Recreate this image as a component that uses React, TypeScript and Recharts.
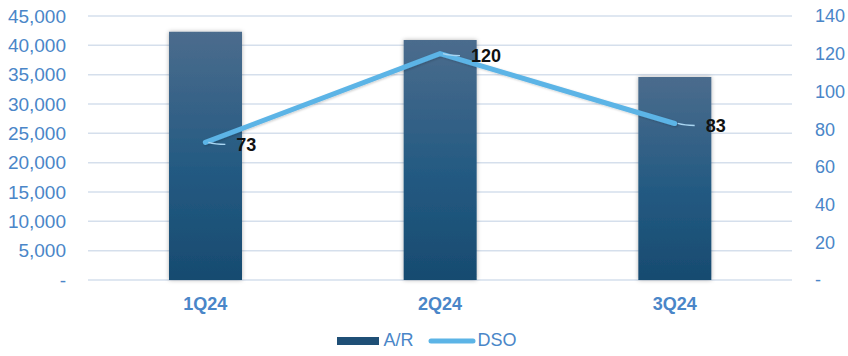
import React from 'react';
import {
  ComposedChart,
  Bar,
  Line,
  XAxis,
  YAxis,
  CartesianGrid,
  Legend,
} from 'recharts';

const quarters = ['1Q24', '2Q24', '3Q24'];
const arValues = [42300, 40900, 34600];
const dsoValues = [73, 120, 83];
const arTicks = [0, 5000, 10000, 15000, 20000, 25000, 30000, 35000, 40000, 45000];
const dsoTicks = [0, 20, 40, 60, 80, 100, 120, 140];

const data = quarters.map((q, i) => ({ quarter: q, ar: arValues[i], dso: dsoValues[i] }));

const FONT = '"Liberation Sans", Arial, sans-serif';
const BLUE_TEXT = '#4a86c8';
const LINE_BLUE = '#5cb4e6';

const fmtAr = (v: number) => (v === 0 ? '-' : v.toLocaleString('en-US'));
const fmtDso = (v: number) => (v === 0 ? '-' : String(v));

// excel-style data label with a little leader line
const DsoLabel = (props: any) => {
  const { x, y, value } = props;
  if (x == null || y == null) return null;
  return (
    <g>
      <path
        d={`M${x + 3},${y} Q${x + 10},${y + 2} ${x + 20},${y + 2}`}
        stroke="#a9d5f1"
        strokeWidth={1.3}
        fill="none"
      />
      <text
        x={x + 31}
        y={y + 2}
        dy="0.35em"
        fontFamily={FONT}
        fontSize={18}
        fontWeight="bold"
        fill="#111"
      >
        {value}
      </text>
    </g>
  );
};

const LegendContent = () => (
  <div
    style={{
      display: 'flex',
      justifyContent: 'center',
      alignItems: 'center',
      fontFamily: FONT,
      fontSize: 18,
      color: BLUE_TEXT,
      paddingLeft: 6,
    }}
  >
    <svg width={42} height={10} style={{ marginRight: 4 }}>
      <rect x={0} y={1} width={42} height={8} fill="#1f4f76" />
    </svg>
    <span style={{ marginRight: 14 }}>A/R</span>
    <svg width={48} height={10} style={{ marginRight: 2 }}>
      <line x1={3} y1={5} x2={45} y2={5} stroke={LINE_BLUE} strokeWidth={5} strokeLinecap="round" />
    </svg>
    <span>DSO</span>
  </div>
);

export default function App() {
  return (
    <div style={{ position: 'absolute', left: 0, top: 0, width: 848, height: 356, background: '#fff' }}>
      <ComposedChart
        width={848}
        height={356}
        data={data}
        margin={{ top: 16, right: 0, bottom: 0, left: 0 }}
      >
        <defs>
          <linearGradient id="arGrad" x1="0" y1="0" x2="0" y2="1">
            <stop offset="0%" stopColor="#4b6c8d" />
            <stop offset="55%" stopColor="#245a82" />
            <stop offset="100%" stopColor="#174b70" />
          </linearGradient>
          <filter id="barShadow" x="-20%" y="-5%" width="140%" height="110%">
            <feDropShadow dx="0" dy="0" stdDeviation="2" floodColor="#000" floodOpacity="0.3" />
          </filter>
          <filter id="lineShadow" x="-5%" y="-20%" width="110%" height="140%">
            <feDropShadow dx="1" dy="1" stdDeviation="1" floodColor="#000" floodOpacity="0.2" />
          </filter>
        </defs>
        <CartesianGrid vertical={false} stroke="#d5dfec" strokeWidth={1.5} yAxisId="ar" />
        <XAxis
          dataKey="quarter"
          axisLine={false}
          tickLine={false}
          tickSize={0}
          tickMargin={17}
          height={50}
          tick={{ fill: BLUE_TEXT, fontSize: 18, fontWeight: 'bold', fontFamily: FONT }}
        />
        <YAxis
          yAxisId="ar"
          orientation="left"
          width={88}
          domain={[0, 45000]}
          ticks={arTicks}
          tickFormatter={fmtAr}
          axisLine={false}
          tickLine={false}
          tickSize={0}
          tickMargin={22}
          interval={0}
          tick={{ fill: BLUE_TEXT, fontSize: 19, fontFamily: FONT }}
        />
        <YAxis
          yAxisId="dso"
          orientation="right"
          width={56}
          domain={[0, 140]}
          ticks={dsoTicks}
          tickFormatter={fmtDso}
          axisLine={false}
          tickLine={false}
          tickSize={0}
          tickMargin={23}
          interval={0}
          tick={{ fill: BLUE_TEXT, fontSize: 18, fontFamily: FONT }}
        />
        <Legend verticalAlign="bottom" height={26} content={<LegendContent />} />
        <Bar
          yAxisId="ar"
          dataKey="ar"
          name="A/R"
          fill="url(#arGrad)"
          barSize={73}
          filter="url(#barShadow)"
          isAnimationActive={false}
        />
        <Line
          yAxisId="dso"
          dataKey="dso"
          name="DSO"
          type="linear"
          stroke={LINE_BLUE}
          strokeWidth={5}
          strokeLinecap="round"
          dot={false}
          activeDot={false}
          filter="url(#lineShadow)"
          label={<DsoLabel />}
          isAnimationActive={false}
        />
      </ComposedChart>
    </div>
  );
}
